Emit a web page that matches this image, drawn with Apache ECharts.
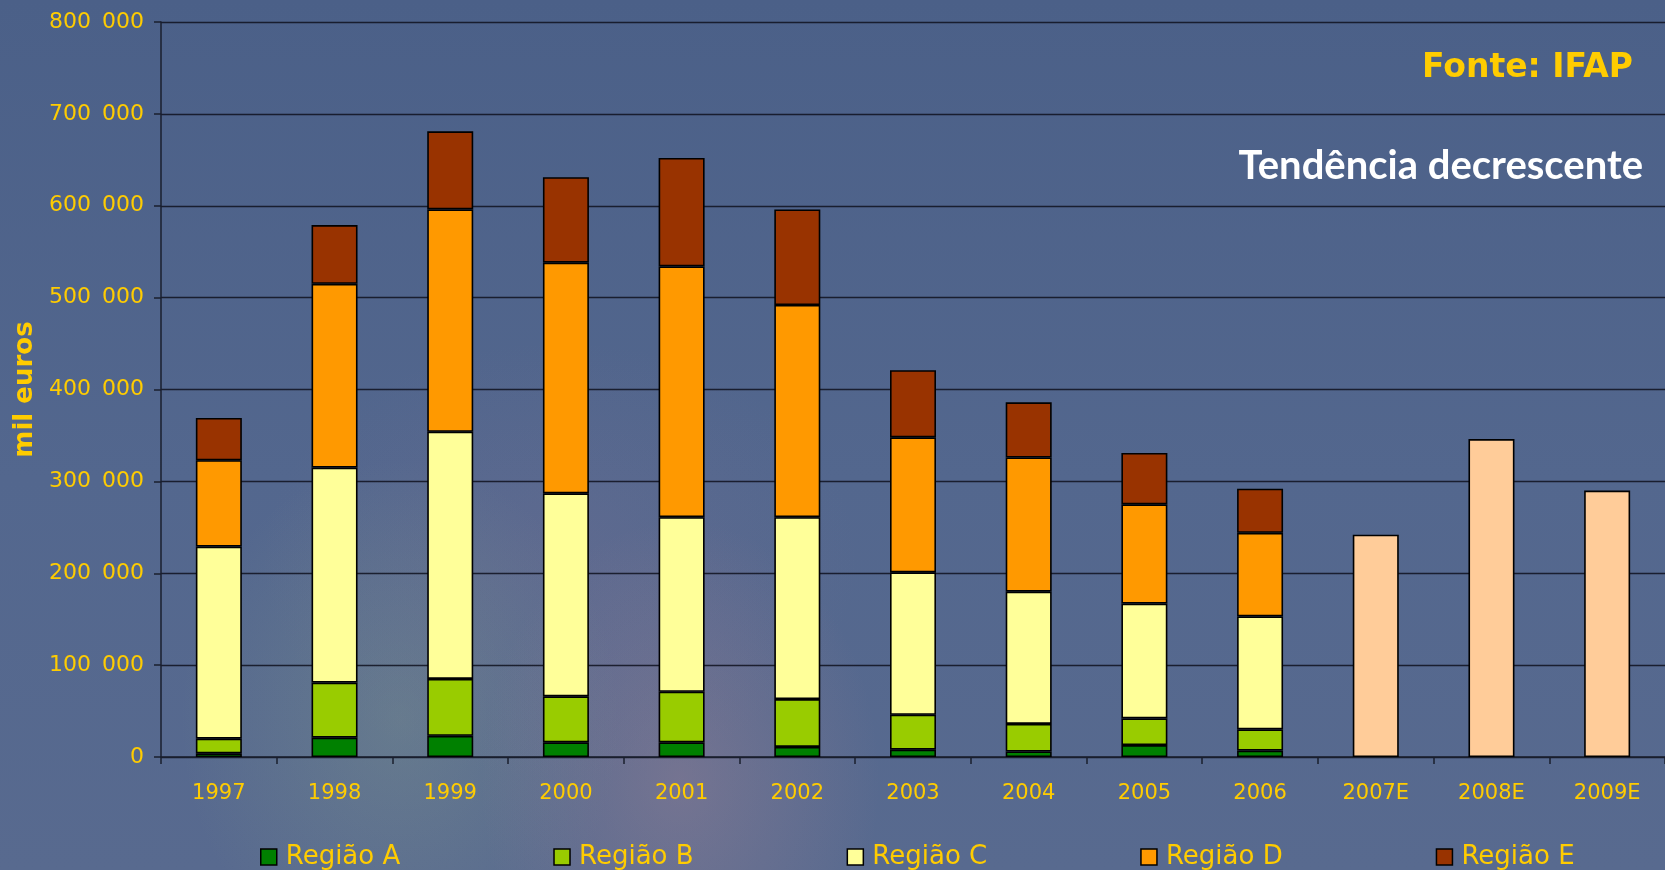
<!DOCTYPE html>
<html>
<head>
<meta charset="utf-8">
<title>Tendência decrescente</title>
<script src="https://cdn.jsdelivr.net/npm/echarts@6/dist/echarts.min.js"></script>
<style>
  html, body {
    margin: 0;
    padding: 0;
    width: 1665px;
    height: 870px;
    overflow: hidden;
  }
  body {
    background:
      radial-gradient(ellipse 200px 260px at 680px 780px, rgba(185, 140, 150, 0.30), rgba(185, 140, 150, 0)),
      radial-gradient(ellipse 220px 260px at 400px 720px, rgba(150, 175, 140, 0.25), rgba(150, 175, 140, 0)),
      radial-gradient(ellipse 300px 220px at 560px 560px, rgba(150, 120, 150, 0.16), rgba(150, 120, 150, 0)),
      linear-gradient(180deg, #4b6088 0%, #53678e 55%, #586a8f 100%);
  }
  #chart {
    width: 1665px;
    height: 870px;
  }
</style>
</head>
<body>
<div id="chart"></div>
<script>
// anos (E = estimativa)
const years = ['1997', '1998', '1999', '2000', '2001', '2002', '2003', '2004', '2005', '2006', '2007E', '2008E', '2009E']

// mil euros por região
const regiaoA = [4000, 21000, 23000, 16000, 16000, 11000, 8000, 6000, 13000, 7000, '-', '-', '-']
const regiaoB = [16000, 60000, 62000, 50000, 55000, 52000, 38000, 30000, 29000, 23000, '-', '-', '-']
const regiaoC = [209000, 234000, 269000, 221000, 190000, 198000, 155000, 144000, 125000, 123000, '-', '-', '-']
const regiaoD = [94000, 200000, 242000, 251000, 273000, 231000, 147000, 146000, 108000, 91000, '-', '-', '-']
const regiaoE = [46000, 64000, 85000, 93000, 118000, 104000, 73000, 60000, 56000, 48000, '-', '-', '-']
const estimativa = ['-', '-', '-', '-', '-', '-', '-', '-', '-', '-', 242000, 346000, 290000]

const legendNames = ['Região A', 'Região B', 'Região C', 'Região D', 'Região E']
const colors = ['#008000', '#99cc00', '#ffff99', '#ff9900', '#993300']

const yellow = '#ffcc00'

function barSeries(name, data, color) {
  return {
    name: name,
    type: 'bar',
    stack: 'total',
    barWidth: 46,
    data: data,
    itemStyle: {
      color: color,
      borderColor: '#000',
      borderWidth: 1.6
    }
  }
}

const chart = echarts.init(document.getElementById('chart'))
chart.setOption({
  backgroundColor: 'transparent',
  animation: false,
  grid: {
    left: 161,
    top: 22,
    width: 1514,
    height: 735,
    containLabel: false
  },
  legend: {
    data: legendNames,
    left: 255,
    top: 839,
    itemWidth: 16,
    itemHeight: 16,
    itemGap: 153,
    icon: 'rect',
    itemStyle: {
      borderColor: '#000',
      borderWidth: 1.5
    },
    textStyle: {
      color: yellow,
      fontSize: 26,
      fontFamily: 'DejaVu Sans',
      padding: [0, 0, 0, 4]
    }
  },
  xAxis: {
    type: 'category',
    data: years,
    axisLine: { lineStyle: { color: '#1a1f2e', width: 1.5 } },
    axisTick: { show: true, length: 7, lineStyle: { color: '#1a1f2e', width: 1.5 } },
    axisLabel: {
      color: yellow,
      fontSize: 21,
      fontFamily: 'DejaVu Sans',
      margin: 26
    }
  },
  yAxis: {
    type: 'value',
    min: 0,
    max: 800000,
    interval: 100000,
    name: 'mil euros',
    nameLocation: 'middle',
    nameGap: 120,
    nameTextStyle: {
      color: yellow,
      fontSize: 26,
      fontWeight: 'bold',
      fontFamily: 'DejaVu Sans'
    },
    axisLine: { show: true, lineStyle: { color: '#1a1f2e', width: 1.5 } },
    axisTick: { show: true, length: 7, lineStyle: { color: '#1a1f2e', width: 1.5 } },
    axisLabel: {
      color: yellow,
      fontSize: 22,
      fontFamily: 'DejaVu Sans',
      margin: 17,
      formatter: v => String(v).replace(/\B(?=(\d{3})+(?!\d))/g, '\u2002')
    },
    splitLine: { lineStyle: { color: 'rgba(15, 18, 30, 0.85)', width: 1.3 } }
  },
  graphic: [
    {
      type: 'text',
      right: 32,
      top: 52,
      style: {
        text: 'Fonte: IFAP',
        fill: yellow,
        font: 'bold 33px "DejaVu Sans"'
      }
    },
    {
      type: 'text',
      right: 22,
      top: 146,
      style: {
        text: 'Tendência decrescente',
        fill: '#ffffff',
        font: 'bold 40px Lato'
      }
    }
  ],
  series: [
    barSeries('Região A', regiaoA, colors[0]),
    barSeries('Região B', regiaoB, colors[1]),
    barSeries('Região C', regiaoC, colors[2]),
    barSeries('Região D', regiaoD, colors[3]),
    barSeries('Região E', regiaoE, colors[4]),
    barSeries('Estimativa', estimativa, '#ffcc99')
  ]
})

window.addEventListener('resize', () => {
  chart.resize()
})
</script>
</body>
</html>
